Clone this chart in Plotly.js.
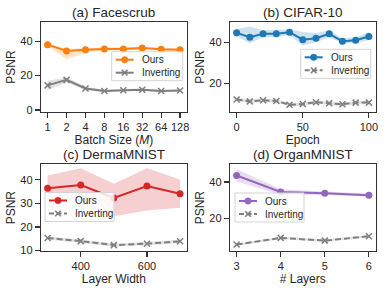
<!DOCTYPE html>
<html><head><meta charset="utf-8">
<script src="https://cdn.plot.ly/plotly-3.0.1.min.js"></script>
<style>html,body{margin:0;padding:0;background:#fff}#chart{width:388px;height:291px}</style>
</head><body><div id="chart"></div>
<script>
// (a) Facescrub
const batchLabels = ['1','2','4','8','16','32','64','128'];
const batchIdx = [0,1,2,3,4,5,6,7];
const oursA    = [38.0, 34.3, 35.0, 35.5, 35.5, 36.0, 35.3, 35.0];
const oursA_lo = [37.0, 29.5, 33.5, 34.8, 34.8, 35.2, 34.6, 34.4];
const oursA_hi = [39.0, 35.5, 36.0, 36.2, 36.2, 36.8, 36.0, 35.6];
const invA     = [14.3, 17.5, 12.5, 11.0, 11.5, 11.8, 11.0, 11.3];
const invA_lo  = [11.5, 16.0, 11.5, 10.3, 10.8, 11.2, 10.4, 10.7];
const invA_hi  = [17.0, 19.0, 13.5, 11.7, 12.2, 12.4, 11.6, 11.9];
// (b) CIFAR-10
const epochs   = [0,10,20,30,40,50,60,70,80,90,100];
const oursB    = [44.6, 42.5, 44.1, 44.2, 44.9, 41.3, 42.0, 44.1, 40.5, 41.0, 42.8];
const oursB_lo = [43.0, 39.5, 42.5, 42.5, 43.5, 38.5, 40.0, 42.5, 39.5, 39.8, 41.0];
const oursB_hi = [46.5, 47.5, 45.8, 46.0, 46.3, 45.0, 44.5, 45.8, 42.0, 42.5, 45.0];
const invB     = [12.3, 11.4, 11.9, 11.6, 9.8, 10.1, 11.0, 10.5, 10.0, 10.8, 10.8];
const invB_lo  = [11.5, 10.6, 11.1, 10.8, 9.0, 9.3, 10.2, 9.7, 9.2, 10.0, 10.0];
const invB_hi  = [13.1, 12.2, 12.7, 12.4, 10.6, 10.9, 11.8, 11.3, 10.8, 11.6, 11.6];
// (c) DermaMNIST
const widths   = [300, 400, 500, 600, 700];
const oursC    = [36.4, 37.8, 32.3, 37.4, 34.1];
const oursC_lo = [31.0, 30.0, 24.5, 27.0, 28.2];
const oursC_hi = [41.8, 44.9, 38.3, 44.9, 40.1];
const invC     = [15.3, 14.0, 12.3, 12.9, 13.9];
const invC_lo  = [14.6, 13.3, 11.6, 12.2, 13.2];
const invC_hi  = [16.0, 14.7, 13.0, 13.6, 14.6];
// (d) OrganMNIST
const layers   = [3, 4, 5, 6];
const oursD    = [43.6, 34.5, 33.8, 32.7];
const oursD_lo = [40.3, 33.0, 32.8, 31.8];
const oursD_hi = [47.2, 36.0, 34.8, 33.7];
const invD     = [5.4, 9.1, 7.6, 10.0];
const invD_lo  = [4.8, 8.5, 7.0, 9.4];
const invD_hi  = [6.0, 9.7, 8.2, 10.6];

const seriesNames = ['Ours', 'Inverting'];
const panelTitles = ['(a) Facescrub', '(b) CIFAR-10', '(c) DermaMNIST', '(d) OrganMNIST'];

const FONT = 'Liberation Sans, Arial, sans-serif';
const TXT = '#262626';
const GRAY = '#7f7f7f';
const W = 388, H = 291;
const PX = p => p / W, PY = p => 1 - p / H;

function band(x, lo, hi, color, xa, ya){
  return [
    {x:x, y:lo, xaxis:xa, yaxis:ya, mode:'lines', line:{width:0, color:color}, hoverinfo:'skip'},
    {x:x, y:hi, xaxis:xa, yaxis:ya, mode:'lines', line:{width:0, color:color}, fill:'tonexty', fillcolor:color, hoverinfo:'skip'}
  ];
}
function ours(x, y, color, xa, ya){
  return {x:x, y:y, xaxis:xa, yaxis:ya, mode:'lines+markers', name:seriesNames[0],
    line:{color:color, width:2}, marker:{symbol:'circle', size:7, color:color}};
}
function inv(x, y, dash, xa, ya){
  return {x:x, y:y, xaxis:xa, yaxis:ya, mode:'lines+markers', name:seriesNames[1],
    line:{color:GRAY, width:2, dash:dash}, marker:{symbol:'x-thin', size:6, color:GRAY, line:{color:GRAY, width:1.5}}};
}
const DASH = '6px,3px';
const traces = [
  ...band(batchIdx, oursA_lo, oursA_hi, 'rgba(255,127,14,0.22)', 'x', 'y'),
  ...band(batchIdx, invA_lo, invA_hi, 'rgba(127,127,127,0.22)', 'x', 'y'),
  ours(batchIdx, oursA, '#ff7f0e', 'x', 'y'),
  inv(batchIdx, invA, 'solid', 'x', 'y'),
  ...band(epochs, oursB_lo, oursB_hi, 'rgba(31,119,180,0.22)', 'x2', 'y2'),
  ...band(epochs, invB_lo, invB_hi, 'rgba(127,127,127,0.22)', 'x2', 'y2'),
  ours(epochs, oursB, '#1f77b4', 'x2', 'y2'),
  inv(epochs, invB, DASH, 'x2', 'y2'),
  ...band(widths, oursC_lo, oursC_hi, 'rgba(214,39,40,0.22)', 'x3', 'y3'),
  ...band(widths, invC_lo, invC_hi, 'rgba(127,127,127,0.22)', 'x3', 'y3'),
  ours(widths, oursC, '#d62728', 'x3', 'y3'),
  inv(widths, invC, DASH, 'x3', 'y3'),
  ...band(layers, oursD_lo, oursD_hi, 'rgba(148,103,189,0.22)', 'x4', 'y4'),
  ...band(layers, invD_lo, invD_hi, 'rgba(127,127,127,0.22)', 'x4', 'y4'),
  ours(layers, oursD, '#9467bd', 'x4', 'y4'),
  inv(layers, invD, DASH, 'x4', 'y4')
];

function ax(extra){
  return Object.assign({showline:true, mirror:true, linecolor:'#333', linewidth:1.2,
    ticks:'outside', ticklen:5, tickcolor:'#333', tickwidth:1.2, showgrid:false, zeroline:false,
    tickfont:{family:FONT, size:11, color:TXT}, fixedrange:true}, extra);
}
function xt(t){ return {text:t, font:{family:FONT, size:12, color:TXT}, standoff:3}; }
function yt(t){ return {text:t, font:{family:FONT, size:12, color:TXT}, standoff:2}; }

// manual, matplotlib-style legends (box left/top in px)
const shapes = [], annotations = [];
function legendBox(left, top, width, color, dashed){
  const h = 29;
  shapes.push({type:'rect', xref:'paper', yref:'paper', layer:'above',
    x0:PX(left), x1:PX(left+width), y0:PY(top+h), y1:PY(top),
    line:{color:'#d4d4d4', width:1}, fillcolor:'rgba(255,255,255,0.85)'});
  const rows = [top+8, top+21];
  const lx0 = left+4, lx1 = left+22, mx = left+13;
  // Ours row
  shapes.push({type:'line', xref:'paper', yref:'paper', layer:'above', x0:PX(lx0), x1:PX(lx1), y0:PY(rows[0]), y1:PY(rows[0]), line:{color:color, width:2}});
  shapes.push({type:'circle', xref:'paper', yref:'paper', layer:'above', x0:PX(mx-3.2), x1:PX(mx+3.2), y0:PY(rows[0]+3.2), y1:PY(rows[0]-3.2), line:{color:color, width:0.5}, fillcolor:color});
  // Inverting row
  shapes.push({type:'line', xref:'paper', yref:'paper', layer:'above', x0:PX(lx0), x1:PX(lx1), y0:PY(rows[1]), y1:PY(rows[1]), line:{color:GRAY, width:2, dash: dashed ? '5px,2.5px' : 'solid'}});
  shapes.push({type:'line', xref:'paper', yref:'paper', layer:'above', x0:PX(mx-2.8), x1:PX(mx+2.8), y0:PY(rows[1]-2.8), y1:PY(rows[1]+2.8), line:{color:GRAY, width:1.6}});
  shapes.push({type:'line', xref:'paper', yref:'paper', layer:'above', x0:PX(mx-2.8), x1:PX(mx+2.8), y0:PY(rows[1]+2.8), y1:PY(rows[1]-2.8), line:{color:GRAY, width:1.6}});
  seriesNames.forEach((n, i) => annotations.push({text:n, xref:'paper', yref:'paper', x:PX(left+28), y:PY(rows[i]),
    xanchor:'left', yanchor:'middle', showarrow:false, font:{family:FONT, size:10, color:TXT}}));
}
legendBox(111.7, 51.7, 71, '#ff7f0e', false);
legendBox(300.7, 49.3, 70, '#1f77b4', true);
legendBox(45, 192.5, 69, '#d62728', true);
legendBox(235, 193, 69, '#9467bd', true);

const dA = [PX(41), PX(186.7)], dB = [PX(230), PX(375.5)];
const dTop = [PY(111.7), PY(22.3)], dBot = [PY(251), PY(164.3)];
[[dA, dTop], [dB, dTop], [dA, dBot], [dB, dBot]].forEach(([dx, dy], i) => annotations.push({
  text:panelTitles[i], x:(dx[0]+dx[1])/2, y:dy[1], xref:'paper', yref:'paper', xanchor:'center', yanchor:'bottom',
  yshift:0, showarrow:false, font:{family:FONT, size:13.5, color:TXT}}));

const layout = {
  width:W, height:H, margin:{l:0, r:0, t:0, b:0},
  paper_bgcolor:'#fff', plot_bgcolor:'#fff', showlegend:false,
  font:{family:FONT, color:TXT},
  xaxis: ax({domain:dA, anchor:'y', range:[-0.35, 7.35], tickvals:batchIdx, ticktext:batchLabels, title:xt('Batch Size (<i>M</i>)')}),
  yaxis: ax({domain:dTop, anchor:'x', range:[-1, 51], tickvals:[0,20,40], title:yt('PSNR')}),
  xaxis2: ax({domain:dB, anchor:'y2', range:[-5, 105], tickvals:[0,50,100], title:xt('Epoch')}),
  yaxis2: ax({domain:dTop, anchor:'x2', range:[6.4, 49.7], tickvals:[20,40], title:yt('PSNR')}),
  xaxis3: ax({domain:dA, anchor:'y3', range:[280, 720], tickvals:[400,600], title:xt('Layer Width')}),
  yaxis3: ax({domain:dBot, anchor:'x3', range:[9.8, 46.6], tickvals:[10,20,30,40], title:yt('PSNR')}),
  xaxis4: ax({domain:dB, anchor:'y4', range:[2.85, 6.15], tickvals:[3,4,5,6], title:xt('# Layers')}),
  yaxis4: ax({domain:dBot, anchor:'x4', range:[1.85, 49.8], tickvals:[20,40], title:yt('PSNR')}),
  shapes: shapes,
  annotations: annotations
};
Plotly.newPlot('chart', traces, layout, {displayModeBar:false, staticPlot:true});
</script></body></html>
